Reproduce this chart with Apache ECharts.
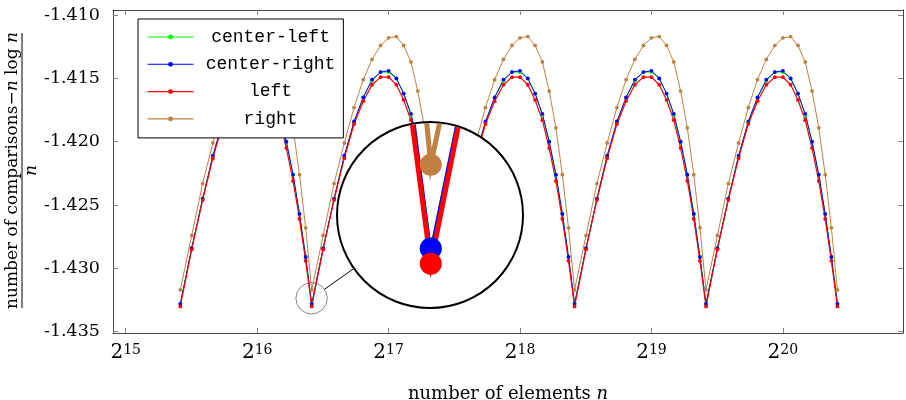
<!DOCTYPE html>
<html>
<head>
<meta charset="utf-8">
<script src="https://cdn.jsdelivr.net/npm/echarts@6/dist/echarts.min.js"></script>
<style>
  body { margin: 0; background: #fff; }
  #wrap { position: relative; width: 906px; height: 400px; }
  #main { width: 906px; height: 400px; }
  #lens {
    position: absolute; left: 336px; top: 121px; width: 188px; height: 188px;
    box-sizing: border-box; border: 2px solid #000; border-radius: 50%;
    overflow: hidden; background: #fff;
  }
  #inset { width: 184px; height: 184px; }
</style>
</head>
<body>
<div id="wrap">
  <div id="main"></div>
  <div id="lens"><div id="inset"></div></div>
</div>
<script>
// x positions as exponents of 2 (log2 n)
const xExp = [
  15.415, 15.502, 15.585, 15.663, 15.737, 15.807, 15.874, 15.939, 16.000, 16.059, 16.115, 16.170, 16.222, 16.273, 16.322, 16.369,
  16.415, 16.502, 16.585, 16.663, 16.737, 16.807, 16.874, 16.939, 17.000, 17.059, 17.115, 17.170, 17.222, 17.273, 17.322, 17.369,
  17.415, 17.502, 17.585, 17.663, 17.737, 17.807, 17.874, 17.939, 18.000, 18.059, 18.115, 18.170, 18.222, 18.273, 18.322, 18.369,
  18.415, 18.502, 18.585, 18.663, 18.737, 18.807, 18.874, 18.939, 19.000, 19.059, 19.115, 19.170, 19.222, 19.273, 19.322, 19.369,
  19.415, 19.502, 19.585, 19.663, 19.737, 19.807, 19.874, 19.939, 20.000, 20.059, 20.115, 20.170, 20.222, 20.273, 20.322, 20.369,
  20.415
];

const centerLeft = [
  -1.4328, -1.4284, -1.4245, -1.4212, -1.4185, -1.4165, -1.4152, -1.4145, -1.4145, -1.4150, -1.4162, -1.4179, -1.4200, -1.4226, -1.4257, -1.4291,
  -1.4328, -1.4284, -1.4245, -1.4212, -1.4185, -1.4165, -1.4152, -1.4145, -1.4145, -1.4150, -1.4162, -1.4179, -1.4200, -1.4226, -1.4257, -1.4291,
  -1.4328, -1.4284, -1.4245, -1.4212, -1.4185, -1.4165, -1.4152, -1.4145, -1.4145, -1.4150, -1.4162, -1.4179, -1.4200, -1.4226, -1.4257, -1.4291,
  -1.4328, -1.4284, -1.4245, -1.4212, -1.4185, -1.4165, -1.4152, -1.4145, -1.4145, -1.4150, -1.4162, -1.4179, -1.4200, -1.4226, -1.4257, -1.4291,
  -1.4328, -1.4284, -1.4245, -1.4212, -1.4185, -1.4165, -1.4152, -1.4145, -1.4145, -1.4150, -1.4162, -1.4179, -1.4200, -1.4226, -1.4257, -1.4291,
  -1.4328
];

const centerRight = [
  -1.4328, -1.4284, -1.4245, -1.4211, -1.4184, -1.4165, -1.4151, -1.4145, -1.4144, -1.4150, -1.4162, -1.4178, -1.4200, -1.4226, -1.4257, -1.4291,
  -1.4328, -1.4284, -1.4245, -1.4211, -1.4184, -1.4165, -1.4151, -1.4145, -1.4144, -1.4150, -1.4162, -1.4178, -1.4200, -1.4226, -1.4257, -1.4291,
  -1.4328, -1.4284, -1.4245, -1.4211, -1.4184, -1.4165, -1.4151, -1.4145, -1.4144, -1.4150, -1.4162, -1.4178, -1.4200, -1.4226, -1.4257, -1.4291,
  -1.4328, -1.4284, -1.4245, -1.4211, -1.4184, -1.4165, -1.4151, -1.4145, -1.4144, -1.4150, -1.4162, -1.4178, -1.4200, -1.4226, -1.4257, -1.4291,
  -1.4328, -1.4284, -1.4245, -1.4211, -1.4184, -1.4165, -1.4151, -1.4145, -1.4144, -1.4150, -1.4162, -1.4178, -1.4200, -1.4226, -1.4257, -1.4291,
  -1.4328
];

const left = [
  -1.4330, -1.4285, -1.4246, -1.4213, -1.4186, -1.4168, -1.4155, -1.4149, -1.4149, -1.4155, -1.4167, -1.4183, -1.4205, -1.4231, -1.4261, -1.4294,
  -1.4330, -1.4285, -1.4246, -1.4213, -1.4186, -1.4168, -1.4155, -1.4149, -1.4149, -1.4155, -1.4167, -1.4183, -1.4205, -1.4231, -1.4261, -1.4294,
  -1.4330, -1.4285, -1.4246, -1.4213, -1.4186, -1.4168, -1.4155, -1.4149, -1.4149, -1.4155, -1.4167, -1.4183, -1.4205, -1.4231, -1.4261, -1.4294,
  -1.4330, -1.4285, -1.4246, -1.4213, -1.4186, -1.4168, -1.4155, -1.4149, -1.4149, -1.4155, -1.4167, -1.4183, -1.4205, -1.4231, -1.4261, -1.4294,
  -1.4330, -1.4285, -1.4246, -1.4213, -1.4186, -1.4168, -1.4155, -1.4149, -1.4149, -1.4155, -1.4167, -1.4183, -1.4205, -1.4231, -1.4261, -1.4294,
  -1.4330
];

const right = [
  -1.4317, -1.4274, -1.4233, -1.4201, -1.4173, -1.4151, -1.4135, -1.4124, -1.4118, -1.4117, -1.4124, -1.4137, -1.4160, -1.4189, -1.4226, -1.4268,
  -1.4317, -1.4274, -1.4233, -1.4201, -1.4173, -1.4151, -1.4135, -1.4124, -1.4118, -1.4117, -1.4124, -1.4137, -1.4160, -1.4189, -1.4226, -1.4268,
  -1.4317, -1.4274, -1.4233, -1.4201, -1.4173, -1.4151, -1.4135, -1.4124, -1.4118, -1.4117, -1.4124, -1.4137, -1.4160, -1.4189, -1.4226, -1.4268,
  -1.4317, -1.4274, -1.4233, -1.4201, -1.4173, -1.4151, -1.4135, -1.4124, -1.4118, -1.4117, -1.4124, -1.4137, -1.4160, -1.4189, -1.4226, -1.4268,
  -1.4317, -1.4274, -1.4233, -1.4201, -1.4173, -1.4151, -1.4135, -1.4124, -1.4118, -1.4117, -1.4124, -1.4137, -1.4160, -1.4189, -1.4226, -1.4268,
  -1.4317
];

const xTicks = [15, 16, 17, 18, 19, 20];
const yTicks = [-1.435, -1.430, -1.425, -1.420, -1.415, -1.410];

const seriesDefs = [
  { name: 'center-left', data: centerLeft, color: '#00ff00' },
  { name: 'center-right', data: centerRight, color: '#0000ff' },
  { name: 'left', data: left, color: '#ff0000' },
  { name: 'right', data: right, color: '#bf8040' }
];

const SERIF = '"DejaVu Serif", "Liberation Serif", serif';
const MONO = '"Liberation Mono", "DejaVu Sans Mono", monospace';

function pairs(ys) {
  return ys.map((y, i) => [xExp[i], y]);
}

const mainChart = echarts.init(document.getElementById('main'));
mainChart.setOption({
  animation: false,
  grid: { left: 113, right: 3, top: 10, bottom: 67, containLabel: false, outerBoundsMode: 'none' },
  legend: {
    orient: 'vertical',
    left: 138, top: 19,
    padding: [9, 8, 10, 9],
    itemGap: 9.3,
    itemWidth: 46,
    itemHeight: 6,
    backgroundColor: '#fff',
    borderColor: '#000',
    borderWidth: 1,
    lineStyle: { width: 1.1 },
    data: seriesDefs.map(s => s.name),
    formatter: name => '{t|' + name + '}',
    textStyle: {
      rich: {
        t: { width: 144, align: 'center', fontFamily: MONO, fontSize: 18, color: '#000' }
      }
    }
  },
  xAxis: [
    {
      type: 'value', min: 14.903, max: 20.914,
      axisLine: { show: true, lineStyle: { color: '#444', width: 1 } },
      axisTick: { inside: true, length: 5, customValues: xTicks, lineStyle: { color: '#888' } },
      splitLine: { show: false },
      axisLabel: {
        customValues: xTicks, margin: 10,
        formatter: v => '{b|2}{s|' + Math.round(v) + '}',
        rich: {
          b: { fontFamily: SERIF, fontSize: 20, color: '#000' },
          s: { fontFamily: SERIF, fontSize: 14, color: '#000', verticalAlign: 'top' }
        }
      },
      name: '{r|number of elements }{i|n}',
      nameLocation: 'middle', nameGap: 52,
      nameTextStyle: {
        rich: {
          r: { fontFamily: SERIF, fontSize: 18, color: '#000' },
          i: { fontFamily: SERIF, fontSize: 18, fontStyle: 'italic', color: '#000' }
        }
      }
    },
    {
      type: 'value', position: 'top', min: 14.903, max: 20.914,
      axisLine: { show: true, lineStyle: { color: '#444', width: 1 } },
      axisTick: { inside: true, length: 5, customValues: xTicks, lineStyle: { color: '#888' } },
      axisLabel: { show: false }, splitLine: { show: false }
    }
  ],
  yAxis: [
    {
      type: 'value', min: -1.4351, max: -1.4096,
      axisLine: { show: true, lineStyle: { color: '#444', width: 1 } },
      axisTick: { inside: true, length: 5, customValues: yTicks, lineStyle: { color: '#888' } },
      splitLine: { show: false },
      axisLabel: {
        customValues: yTicks, margin: 13,
        formatter: v => v.toFixed(3),
        fontFamily: SERIF, fontSize: 17.5, color: '#000'
      }
    },
    {
      type: 'value', position: 'right', min: -1.4351, max: -1.4096,
      axisLine: { show: true, lineStyle: { color: '#444', width: 1 } },
      axisTick: { inside: true, length: 5, customValues: yTicks, lineStyle: { color: '#888' } },
      axisLabel: { show: false }, splitLine: { show: false }
    }
  ],
  series: seriesDefs.map(s => ({
    name: s.name, type: 'line', data: pairs(s.data),
    color: s.color,
    symbol: 'circle', symbolSize: 3.8,
    lineStyle: { width: s.name === 'left' ? 1.2 : 1, color: s.color },
    itemStyle: { color: s.color }
  }))
});

// spy circle in data coordinates and the big lens on the page
const spyCenter = [16.414, -1.43236];
const spyR = 15.7;
const lensC = [430, 215], lensR = 94;
const mag = 6;

const p = mainChart.convertToPixel({ gridIndex: 0 }, spyCenter);
const dx = lensC[0] - p[0], dy = lensC[1] - p[1];
const d = Math.sqrt(dx * dx + dy * dy);
const ux = dx / d, uy = dy / d;

mainChart.setOption({
  graphic: [
    {
      type: 'circle', shape: { cx: p[0], cy: p[1], r: spyR },
      style: { fill: 'none', stroke: '#666', lineWidth: 0.8 }, z: 10
    },
    {
      type: 'line',
      shape: { x1: p[0] + ux * spyR, y1: p[1] + uy * spyR, x2: lensC[0] - ux * lensR, y2: lensC[1] - uy * lensR },
      style: { stroke: '#000', lineWidth: 1 }, z: 10
    },
    {
      type: 'group', x: 22, y: 170.5, rotation: Math.PI / 2,
      children: [
        {
          type: 'text', x: 0, y: -1,
          style: {
            text: '{r|number of comparisons\u2212}{i|n}{r| log }{i|n}',
            align: 'center', verticalAlign: 'bottom',
            rich: {
              r: { fontFamily: SERIF, fontSize: 17, fill: '#000' },
              i: { fontFamily: SERIF, fontSize: 17, fontStyle: 'italic', fill: '#000' }
            }
          }
        },
        { type: 'line', shape: { x1: -137.5, y1: 0, x2: 137.5, y2: 0 }, style: { stroke: '#000', lineWidth: 1 } },
        {
          type: 'text', x: 0, y: 1,
          style: { text: 'n', align: 'center', verticalAlign: 'top', font: 'italic 17px "DejaVu Serif", serif', fill: '#000' }
        }
      ]
    }
  ]
});

// magnified view inside the lens
const xPerPx = (mainChart.convertFromPixel({ gridIndex: 0 }, [p[0] + 100, p[1]])[0] - spyCenter[0]) / 100;
const yPerPx = (spyCenter[1] - mainChart.convertFromPixel({ gridIndex: 0 }, [p[0], p[1] + 100])[1]) / 100;
const half = 92 / mag;

const insetChart = echarts.init(document.getElementById('inset'));
insetChart.setOption({
  animation: false,
  grid: { left: 0, right: 0, top: 0, bottom: 0, outerBoundsMode: 'none' },
  xAxis: { type: 'value', show: false, min: spyCenter[0] - half * xPerPx, max: spyCenter[0] + half * xPerPx },
  yAxis: { type: 'value', show: false, min: spyCenter[1] - half * yPerPx, max: spyCenter[1] + half * yPerPx },
  series: seriesDefs.map(s => ({
    name: s.name, type: 'line', data: pairs(s.data),
    symbol: 'circle', symbolSize: 22,
    lineStyle: {
      width: (s.name === 'left' || s.name === 'right') ? 5 : 1.8,
      color: s.color, join: 'miter', miterLimit: 10
    },
    itemStyle: { color: s.color }
  }))
});
</script>
</body>
</html>
